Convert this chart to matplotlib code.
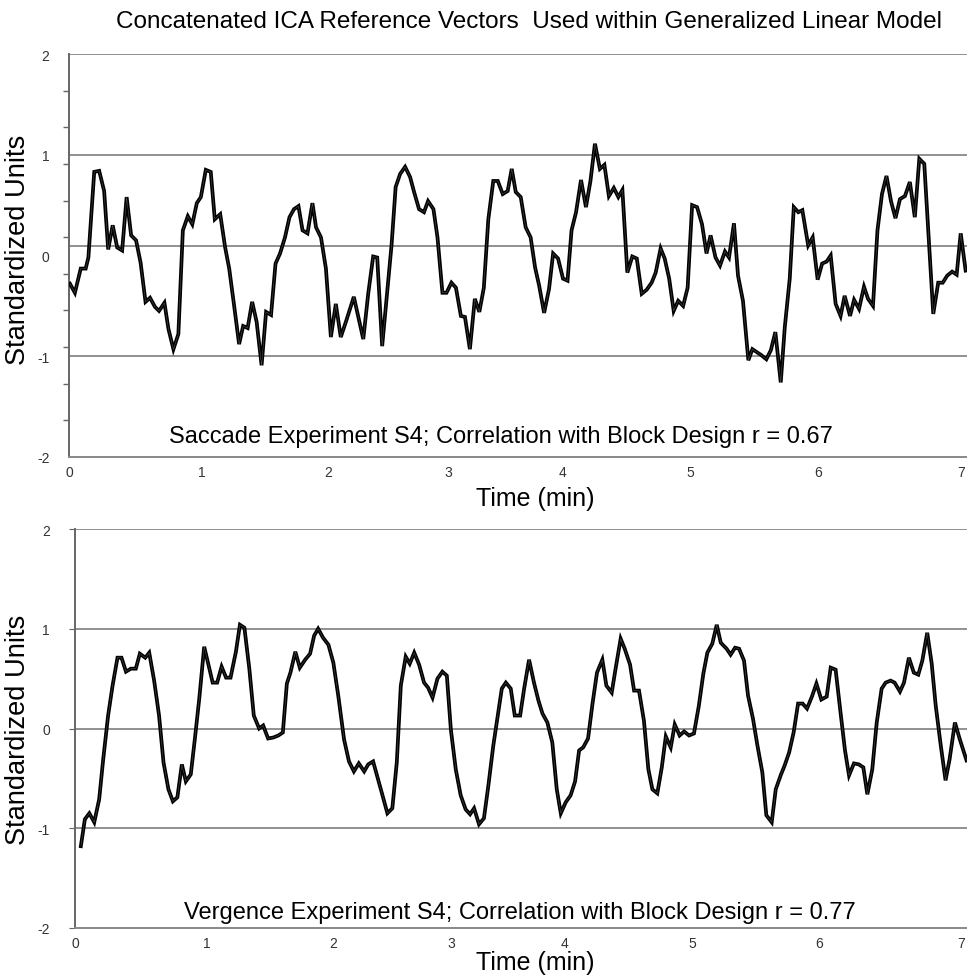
import numpy as np
import matplotlib
matplotlib.use('Agg')
import matplotlib.pyplot as plt

plt.rcParams['font.family'] = ['Liberation Sans', 'DejaVu Sans']

# ---- data (x = scan index, y = standardized units) ----
top_scan = [0.2, 1.3, 2.6, 3.7, 4.3, 5.6, 6.7, 7.8, 8.7, 9.7, 10.7, 11.8, 12.8, 13.8, 14.9, 15.9,
            17.0, 18.0, 19.1, 20.0, 21.2, 22.1, 23.2, 24.3, 25.3, 26.4, 27.4, 28.4, 29.3, 30.4,
            31.5, 32.4, 33.6, 34.7, 35.6, 36.7, 37.8, 38.7, 39.7, 40.7, 41.7, 42.8, 43.8, 44.9,
            45.9, 46.9, 48.0, 49.0, 50.0, 51.0, 51.9, 53.0, 54.1, 54.9, 56.0, 57.1, 58.2, 59.3,
            60.4, 61.6, 63.3, 65.4, 66.5, 67.6, 68.5, 69.6, 70.6, 71.7, 72.6, 73.6, 74.7, 75.8,
            76.7, 77.8, 78.9, 79.8, 81.0, 81.9, 83.0, 83.9, 85.0, 86.0, 87.1, 88.0, 89.1, 90.2,
            91.2, 92.2, 93.2, 94.3, 95.3, 96.4, 97.5, 98.4, 99.3, 100.4, 101.5, 102.6, 103.6,
            104.5, 105.6, 106.7, 107.6, 108.7, 109.8, 110.8, 111.7, 112.7, 113.8, 114.9, 115.9,
            116.9, 118.0, 119.0, 120.0, 121.1, 122.1, 123.0, 124.1, 125.2, 126.2, 127.3, 128.4,
            129.5, 130.4, 131.5, 132.4, 133.4, 134.4, 135.4, 136.5, 137.5, 138.5, 139.6, 140.7,
            141.7, 142.6, 143.7, 144.7, 145.8, 146.7, 147.8, 148.7, 149.8, 151.0, 151.9, 153.9,
            155.0, 156.0, 157.0, 158.2, 159.1, 160.2, 161.1, 162.1, 163.0, 164.3, 165.3, 166.4,
            167.4, 168.4, 169.3, 170.4, 171.5, 172.4, 173.6, 174.5, 175.6, 176.7, 177.6, 178.7,
            179.7, 180.7, 181.7, 182.7, 183.7, 184.7, 185.8, 186.9, 188.0, 189.0, 190.1, 191.1,
            192.1, 193.2, 194.2, 195.2, 196.3, 197.3, 198.2, 199.3]
top_vals = [-0.28, -0.37, -0.13, -0.13, -0.02, 0.83, 0.84, 0.64, 0.06, 0.30, 0.08, 0.05, 0.58, 0.20,
            0.15, -0.07, -0.46, -0.42, -0.51, -0.55, -0.47, -0.73, -0.93, -0.78, 0.25, 0.39, 0.31,
            0.52, 0.58, 0.85, 0.83, 0.36, 0.41, 0.08, -0.13, -0.50, -0.88, -0.70, -0.72, -0.46,
            -0.66, -1.09, -0.56, -0.59, -0.08, 0.02, 0.18, 0.38, 0.46, 0.49, 0.25, 0.22, 0.52, 0.28,
            0.18, -0.13, -0.81, -0.48, -0.81, -0.65, -0.41, -0.83, -0.38, -0.01, -0.02, -0.90,
            -0.42, 0.11, 0.68, 0.81, 0.88, 0.78, 0.63, 0.46, 0.43, 0.54, 0.46, 0.18, -0.37, -0.37,
            -0.27, -0.32, -0.60, -0.61, -0.93, -0.43, -0.56, -0.32, 0.36, 0.74, 0.74, 0.61, 0.64,
            0.86, 0.63, 0.58, 0.28, 0.18, -0.12, -0.30, -0.57, -0.33, 0.02, -0.03, -0.23, -0.25,
            0.25, 0.43, 0.75, 0.48, 0.74, 1.11, 0.86, 0.90, 0.59, 0.67, 0.58, 0.65, -0.17, -0.01,
            -0.03, -0.38, -0.34, -0.27, -0.17, 0.07, -0.03, -0.23, -0.55, -0.45, -0.50, -0.32,
            0.50, 0.48, 0.31, 0.02, 0.20, -0.02, -0.10, 0.04, -0.02, 0.32, -0.20, -0.45, -1.04,
            -0.93, -0.99, -1.03, -0.94, -0.76, -1.26, -0.71, -0.23, 0.48, 0.43, 0.45, 0.10, 0.18,
            -0.24, -0.08, -0.06, 0.00, -0.48, -0.60, -0.40, -0.60, -0.44, -0.53, -0.31, -0.43,
            -0.50, 0.25, 0.61, 0.79, 0.54, 0.37, 0.56, 0.59, 0.73, 0.38, 0.96, 0.91, 0.16, -0.58,
            -0.27, -0.27, -0.20, -0.16, -0.19, 0.22, -0.15]

bot_scan = [1.3, 2.2, 3.2, 4.3, 5.4, 6.3, 7.4, 8.4, 9.5, 10.4, 11.4, 12.5, 13.6, 14.5, 15.7, 16.6,
            17.7, 18.8, 19.8, 20.9, 21.9, 22.9, 23.9, 24.8, 25.9, 26.8, 27.8, 28.9, 29.8, 30.8,
            31.8, 32.8, 33.8, 34.8, 36.0, 36.9, 37.9, 39.0, 40.0, 41.2, 42.1, 43.2, 44.4, 45.5,
            46.5, 47.4, 48.2, 49.3, 50.3, 51.5, 52.6, 53.5, 54.4, 55.5, 56.7, 57.8, 58.9, 60.2,
            61.3, 62.4, 63.5, 64.7, 65.6, 66.7, 67.7, 68.8, 69.9, 71.0, 72.0, 72.9, 74.0, 74.9,
            75.9, 77.0, 78.1, 79.0, 80.0, 81.1, 82.2, 83.2, 84.1, 85.2, 86.3, 87.4, 88.4, 89.3,
            90.4, 91.5, 92.5, 93.6, 94.6, 95.5, 96.4, 97.5, 98.4, 99.6, 100.5, 101.6, 102.7, 103.7,
            104.6, 105.7, 106.8, 107.8, 108.7, 109.8, 110.9, 111.9, 112.8, 113.7, 114.8, 115.8,
            116.8, 118.0, 118.9, 120.1, 121.0, 122.1, 123.0, 124.2, 125.1, 126.2, 127.3, 128.3,
            129.2, 130.3, 131.3, 132.2, 133.3, 134.2, 135.3, 136.3, 137.4, 138.5, 139.6, 140.6,
            141.5, 142.6, 143.6, 144.5, 145.8, 146.7, 147.7, 148.6, 149.7, 150.6, 151.7, 152.7,
            153.8, 154.7, 155.9, 156.8, 157.9, 158.8, 159.8, 160.8, 161.8, 162.8, 163.8, 164.9,
            165.9, 167.0, 168.2, 169.1, 170.2, 171.3, 172.3, 173.2, 174.3, 175.4, 176.4, 177.3,
            178.4, 179.4, 180.5, 181.4, 182.5, 183.4, 184.6, 185.5, 186.6, 187.7, 188.7, 189.6,
            190.7, 191.7, 192.6, 193.7, 194.8, 195.7, 196.9, 198.0, 199.5]
bot_vals = [-1.18, -0.91, -0.85, -0.94, -0.71, -0.31, 0.13, 0.43, 0.71, 0.71, 0.57, 0.60, 0.60,
            0.75, 0.71, 0.76, 0.48, 0.13, -0.34, -0.61, -0.73, -0.69, -0.36, -0.53, -0.46, -0.11,
            0.30, 0.82, 0.65, 0.46, 0.46, 0.62, 0.51, 0.51, 0.77, 1.04, 1.01, 0.60, 0.13, 0.00,
            0.03, -0.10, -0.09, -0.07, -0.04, 0.45, 0.56, 0.77, 0.61, 0.69, 0.75, 0.93, 1.00, 0.91,
            0.84, 0.66, 0.33, -0.11, -0.33, -0.43, -0.35, -0.43, -0.36, -0.33, -0.49, -0.67,
            -0.85, -0.80, -0.34, 0.43, 0.72, 0.65, 0.76, 0.64, 0.46, 0.41, 0.31, 0.50, 0.57, 0.53,
            -0.01, -0.41, -0.67, -0.81, -0.86, -0.80, -0.96, -0.90, -0.57, -0.17, 0.13, 0.40,
            0.46, 0.40, 0.13, 0.13, 0.40, 0.69, 0.46, 0.28, 0.15, 0.06, -0.14, -0.61, -0.85,
            -0.74, -0.67, -0.53, -0.22, -0.19, -0.10, 0.25, 0.56, 0.69, 0.43, 0.36, 0.61, 0.90,
            0.80, 0.64, 0.38, 0.38, 0.08, -0.41, -0.61, -0.65, -0.39, -0.08, -0.19, 0.04, -0.07,
            -0.03, -0.07, -0.05, 0.23, 0.55, 0.76, 0.85, 1.04, 0.86, 0.80, 0.74, 0.81, 0.80, 0.68,
            0.33, 0.10, -0.17, -0.44, -0.87, -0.94, -0.61, -0.47, -0.37, -0.24, -0.04, 0.25, 0.25,
            0.20, 0.32, 0.45, 0.29, 0.32, 0.61, 0.59, 0.16, -0.22, -0.47, -0.35, -0.36, -0.39,
            -0.66, -0.41, 0.06, 0.40, 0.46, 0.48, 0.46, 0.37, 0.46, 0.71, 0.56, 0.54, 0.68, 0.96,
            0.65, 0.23, -0.16, -0.52, -0.31, 0.06, -0.11, -0.32]

# category labels of the time axis sit at these scan indices
time_tick_scan = [0, 29.5, 57.7, 84.3, 109.6, 138.1, 166.5, 198.3]
time_tick_labels = ['0', '1', '2', '3', '4', '5', '6', '7']
y_ticks = [2, 1, 0, -1, -2]
top_hlines = [1, 0.09, -1]
bot_hlines = [1, 0, -1]

title = 'Concatenated ICA Reference Vectors  Used within Generalized Linear Model'
top_note = 'Saccade Experiment S4; Correlation with Block Design r = 0.67'
bot_note = 'Vergence Experiment S4; Correlation with Block Design r = 0.77'

fig = plt.figure(figsize=(9.67, 9.79), dpi=100)
ax1 = fig.add_axes([0.0714, 0.5322, 0.9286, 0.4116])
ax2 = fig.add_axes([0.0776, 0.0511, 0.9224, 0.4075])

grey = '#888888'


def style(ax, hlines, minor):
    ax.set_xlim(0, 199.6)
    ax.set_ylim(-2, 2)
    for h in hlines + [2]:
        ax.axhline(h, color=grey, lw=1.3, zorder=1)
    for s in ['top', 'right']:
        ax.spines[s].set_visible(False)
    ax.spines['left'].set_color('#666666')
    ax.spines['left'].set_linewidth(1.4)
    ax.spines['bottom'].set_color(grey)
    ax.spines['bottom'].set_linewidth(1.4)
    ax.set_yticks(y_ticks)
    ax.set_yticklabels([str(v) for v in y_ticks])
    if minor:
        ax.set_yticks(np.linspace(-2, 2, 12), minor=True)
        ax.tick_params(axis='y', which='minor', length=4, color='#666666', width=1)
        ax.tick_params(axis='y', which='major', length=0, pad=14)
    else:
        ax.tick_params(axis='y', which='major', length=4, color='#666666', pad=14)
    ax.set_xticks(time_tick_scan)
    ax.set_xticklabels(time_tick_labels)
    ax.tick_params(axis='x', length=0, pad=6)
    ax.tick_params(labelsize=10, labelcolor='#333333')


def trace(ax, x, y):
    ax.plot(x, y, color='black', lw=2.7, solid_joinstyle='miter', zorder=3)
    ax.plot(x, y, color='white', lw=0.3, alpha=0.4, zorder=4)


style(ax1, top_hlines, True)
style(ax2, bot_hlines, False)
trace(ax1, top_scan, top_vals)
trace(ax2, bot_scan, bot_vals)

ax1.text(0.481, 0.052, top_note, transform=ax1.transAxes, ha='center', va='center', fontsize=17)
ax2.text(0.499, 0.04, bot_note, transform=ax2.transAxes, ha='center', va='center', fontsize=17)

fig.text(0.547, 0.9775, title, ha='center', va='center', fontsize=17.5)
fig.text(0.019, 0.745, 'Standardized Units', rotation=90, ha='center', va='center', fontsize=19.6)
fig.text(0.019, 0.254, 'Standardized Units', rotation=90, ha='center', va='center', fontsize=19.6)
fig.text(0.553, 0.4905, 'Time (min)', ha='center', va='center', fontsize=18)
fig.text(0.553, 0.0165, 'Time (min)', ha='center', va='center', fontsize=18)

fig.savefig('out.png', dpi=100)
